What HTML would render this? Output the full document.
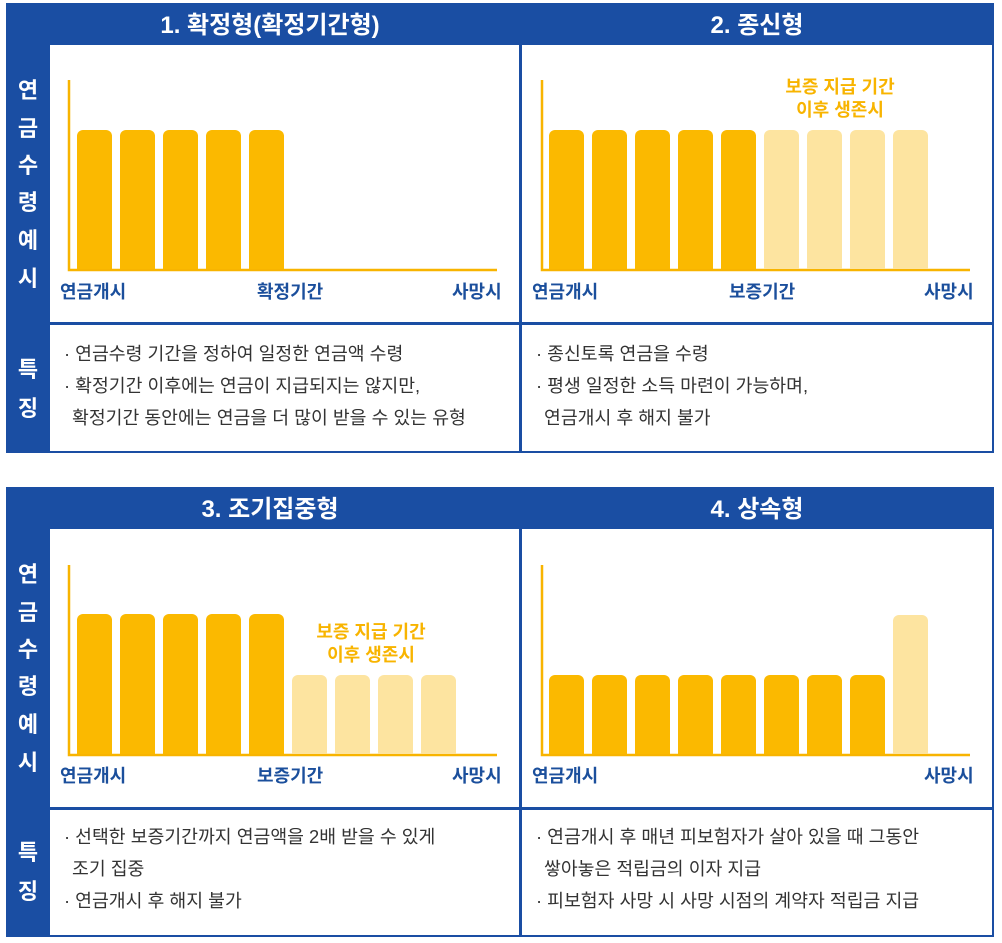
<!DOCTYPE html>
<html><head><meta charset="utf-8"><style>
body{margin:0;background:#fff;width:1002px;height:943px;overflow:hidden}
svg{display:block}
text{font-family:"Liberation Sans","Noto Sans CJK KR",sans-serif}
.h{fill:#fff;font-size:24px;font-weight:bold;text-anchor:middle}
.v{fill:#fff;font-size:22px;font-weight:bold;text-anchor:middle}
.l{fill:#1b4f9c;font-size:18px;font-weight:bold}
.o{fill:#f8b400;font-size:18px;font-weight:bold;text-anchor:middle}
.t{fill:#333;font-size:18.3px}
</style></head><body>
<svg width="1002" height="943" viewBox="0 0 1002 943">
<rect x="6" y="3" width="988" height="450" fill="#1a4ea3"/>
<rect x="50" y="45" width="469" height="277" fill="#fff"/>
<rect x="522" y="45" width="470" height="277" fill="#fff"/>
<rect x="50" y="325" width="469" height="126" fill="#fff"/>
<rect x="522" y="325" width="470" height="126" fill="#fff"/>
<text class="h" x="270" y="33">1. 확정형(확정기간형)</text>
<text class="h" x="757" y="33">2. 종신형</text>
<g class="v"><text x="28" y="98">연</text><text x="28" y="136">금</text><text x="28" y="173">수</text><text x="28" y="210">령</text><text x="28" y="248">예</text><text x="28" y="286">시</text>
<text x="28" y="377">특</text><text x="28" y="416">징</text></g>
<path d="M69,80 V270 H497" stroke="#f8b400" stroke-width="2.5" fill="none"/>
<g fill="#fbb900"><path d="M77,269 V136 a6,6 0 0 1 6,-6 h23 a6,6 0 0 1 6,6 V269Z"/><path d="M120,269 V136 a6,6 0 0 1 6,-6 h23 a6,6 0 0 1 6,6 V269Z"/><path d="M163,269 V136 a6,6 0 0 1 6,-6 h23 a6,6 0 0 1 6,6 V269Z"/><path d="M206,269 V136 a6,6 0 0 1 6,-6 h23 a6,6 0 0 1 6,6 V269Z"/><path d="M249,269 V136 a6,6 0 0 1 6,-6 h23 a6,6 0 0 1 6,6 V269Z"/></g>
<text class="l" x="60" y="298">연금개시</text><text class="l" x="257" y="298">확정기간</text><text class="l" x="452" y="298">사망시</text>
<path d="M542,80 V270 H970" stroke="#f8b400" stroke-width="2.5" fill="none"/>
<g fill="#fbb900"><path d="M549,269 V136 a6,6 0 0 1 6,-6 h23 a6,6 0 0 1 6,6 V269Z"/><path d="M592,269 V136 a6,6 0 0 1 6,-6 h23 a6,6 0 0 1 6,6 V269Z"/><path d="M635,269 V136 a6,6 0 0 1 6,-6 h23 a6,6 0 0 1 6,6 V269Z"/><path d="M678,269 V136 a6,6 0 0 1 6,-6 h23 a6,6 0 0 1 6,6 V269Z"/><path d="M721,269 V136 a6,6 0 0 1 6,-6 h23 a6,6 0 0 1 6,6 V269Z"/></g>
<g fill="#fde4a0"><path d="M764,269 V136 a6,6 0 0 1 6,-6 h23 a6,6 0 0 1 6,6 V269Z"/><path d="M807,269 V136 a6,6 0 0 1 6,-6 h23 a6,6 0 0 1 6,6 V269Z"/><path d="M850,269 V136 a6,6 0 0 1 6,-6 h23 a6,6 0 0 1 6,6 V269Z"/><path d="M893,269 V136 a6,6 0 0 1 6,-6 h23 a6,6 0 0 1 6,6 V269Z"/></g>
<text class="o" x="840" y="93">보증 지급 기간</text><text class="o" x="840" y="116">이후 생존시</text>
<text class="l" x="532" y="298">연금개시</text><text class="l" x="729" y="298">보증기간</text><text class="l" x="924" y="298">사망시</text>
<g class="t"><text x="64" y="360">· 연금수령 기간을 정하여 일정한 연금액 수령</text><text x="64" y="392">· 확정기간 이후에는 연금이 지급되지는 않지만,</text><text x="72" y="424">확정기간 동안에는 연금을 더 많이 받을 수 있는 유형</text>
<text x="536" y="360">· 종신토록 연금을 수령</text><text x="536" y="392">· 평생 일정한 소득 마련이 가능하며,</text><text x="544" y="424">연금개시 후 해지 불가</text></g>

<rect x="6" y="487" width="988" height="450" fill="#1a4ea3"/>
<rect x="50" y="529" width="469" height="278" fill="#fff"/>
<rect x="522" y="529" width="470" height="278" fill="#fff"/>
<rect x="50" y="810" width="469" height="125" fill="#fff"/>
<rect x="522" y="810" width="470" height="125" fill="#fff"/>
<text class="h" x="270" y="517">3. 조기집중형</text>
<text class="h" x="757" y="517">4. 상속형</text>
<g class="v"><text x="28" y="582">연</text><text x="28" y="620">금</text><text x="28" y="657">수</text><text x="28" y="694">령</text><text x="28" y="732">예</text><text x="28" y="770">시</text>
<text x="28" y="860">특</text><text x="28" y="899">징</text></g>
<path d="M69,565 V755 H497" stroke="#f8b400" stroke-width="2.5" fill="none"/>
<g fill="#fbb900"><path d="M77,754 V620 a6,6 0 0 1 6,-6 h23 a6,6 0 0 1 6,6 V754Z"/><path d="M120,754 V620 a6,6 0 0 1 6,-6 h23 a6,6 0 0 1 6,6 V754Z"/><path d="M163,754 V620 a6,6 0 0 1 6,-6 h23 a6,6 0 0 1 6,6 V754Z"/><path d="M206,754 V620 a6,6 0 0 1 6,-6 h23 a6,6 0 0 1 6,6 V754Z"/><path d="M249,754 V620 a6,6 0 0 1 6,-6 h23 a6,6 0 0 1 6,6 V754Z"/></g>
<g fill="#fde4a0"><path d="M292,754 V681 a6,6 0 0 1 6,-6 h23 a6,6 0 0 1 6,6 V754Z"/><path d="M335,754 V681 a6,6 0 0 1 6,-6 h23 a6,6 0 0 1 6,6 V754Z"/><path d="M378,754 V681 a6,6 0 0 1 6,-6 h23 a6,6 0 0 1 6,6 V754Z"/><path d="M421,754 V681 a6,6 0 0 1 6,-6 h23 a6,6 0 0 1 6,6 V754Z"/></g>
<text class="o" x="371" y="638">보증 지급 기간</text><text class="o" x="371" y="661">이후 생존시</text>
<text class="l" x="60" y="782">연금개시</text><text class="l" x="257" y="782">보증기간</text><text class="l" x="452" y="782">사망시</text>
<path d="M542,565 V755 H970" stroke="#f8b400" stroke-width="2.5" fill="none"/>
<g fill="#fbb900"><path d="M549,754 V681 a6,6 0 0 1 6,-6 h23 a6,6 0 0 1 6,6 V754Z"/><path d="M592,754 V681 a6,6 0 0 1 6,-6 h23 a6,6 0 0 1 6,6 V754Z"/><path d="M635,754 V681 a6,6 0 0 1 6,-6 h23 a6,6 0 0 1 6,6 V754Z"/><path d="M678,754 V681 a6,6 0 0 1 6,-6 h23 a6,6 0 0 1 6,6 V754Z"/><path d="M721,754 V681 a6,6 0 0 1 6,-6 h23 a6,6 0 0 1 6,6 V754Z"/><path d="M764,754 V681 a6,6 0 0 1 6,-6 h23 a6,6 0 0 1 6,6 V754Z"/><path d="M807,754 V681 a6,6 0 0 1 6,-6 h23 a6,6 0 0 1 6,6 V754Z"/><path d="M850,754 V681 a6,6 0 0 1 6,-6 h23 a6,6 0 0 1 6,6 V754Z"/></g>
<path fill="#fde4a0" d="M893,754 V621 a6,6 0 0 1 6,-6 h23 a6,6 0 0 1 6,6 V754Z"/>
<text class="l" x="532" y="782">연금개시</text><text class="l" x="924" y="782">사망시</text>
<g class="t"><text x="64" y="843">· 선택한 보증기간까지 연금액을 2배 받을 수 있게</text><text x="72" y="875">조기 집중</text><text x="64" y="907">· 연금개시 후 해지 불가</text>
<text x="536" y="843">· 연금개시 후 매년 피보험자가 살아 있을 때 그동안</text><text x="544" y="875">쌓아놓은 적립금의 이자 지급</text><text x="536" y="907">· 피보험자 사망 시 사망 시점의 계약자 적립금 지급</text></g>
</svg>
</body></html>
